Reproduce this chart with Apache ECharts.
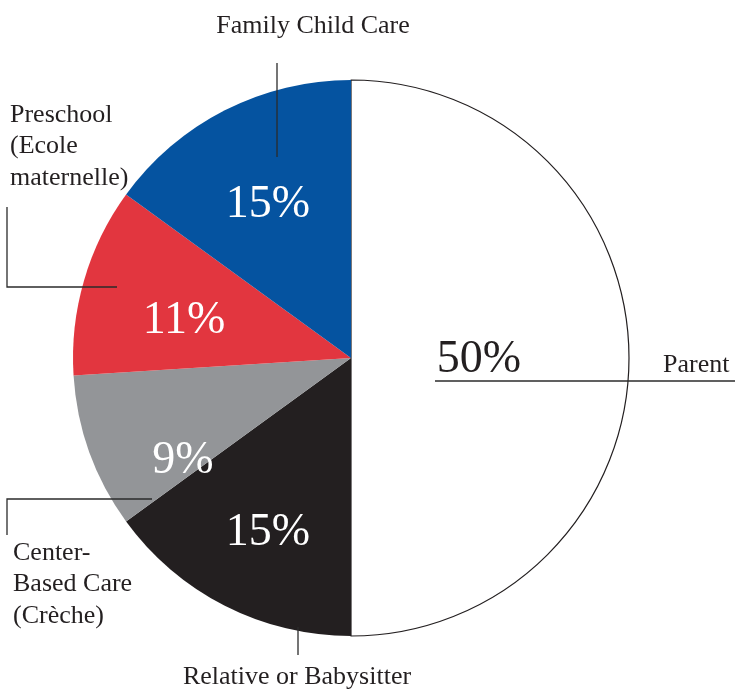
<!DOCTYPE html>
<html>
<head>
<meta charset="utf-8">
<script src="https://cdn.jsdelivr.net/npm/echarts@6/dist/echarts.min.js"></script>
<style>
  html, body { margin: 0; padding: 0; background: #fff; }
  #main { width: 735px; height: 689px; }
</style>
</head>
<body>
<div id="main"></div>
<script>
// slices, clockwise from 12 o'clock
var categories = ["Parent", "Relative or Babysitter", "Center-\nBased Care\n(Crèche)", "Preschool\n(Ecole\nmaternelle)", "Family Child Care"];
var shares = [50, 15, 9, 11, 15];

var sliceColors = ["#ffffff", "#231f20", "#939598", "#e2363f", "#0553a0"];
var pctColors = ["#231f20", "#ffffff", "#ffffff", "#ffffff", "#ffffff"];

// where the percent text sits (centre of text)
var pctPos = [[479, 360], [268, 533], [183, 461], [184, 321], [268, 205]];

// outer labels: text anchor + leader line
var namePos = [
  { x: 663, y: 365, align: "left", verticalAlign: "middle" },
  { x: 297, y: 677, align: "center", verticalAlign: "middle" },
  { x: 13, y: 537, align: "left", verticalAlign: "top" },
  { x: 10, y: 99, align: "left", verticalAlign: "top" },
  { x: 313, y: 26, align: "center", verticalAlign: "middle" }
];
var leaderLines = [
  [[435, 381], [600, 381], [735, 381]],
  [[298, 627], [298, 640], [298, 655]],
  [[152, 499], [7, 499], [7, 535]],
  [[117, 287], [7, 287], [7, 207]],
  [[277, 157], [277, 110], [277, 63]]
];

var font = "Liberation Serif";

var myChart = echarts.init(document.getElementById("main"));

var pieData = categories.map(function (name, i) {
  return {
    name: name,
    value: shares[i],
    itemStyle: i === 0
      ? { color: sliceColors[i], borderColor: "#231f20", borderWidth: 1.2 }
      : { color: sliceColors[i], borderWidth: 0 },
    label: { color: pctColors[i] }
  };
});

var nameData = categories.map(function (name, i) {
  return { name: name, value: shares[i] };
});

var option = {
  animation: false,
  backgroundColor: "#ffffff",
  series: [
    {
      type: "pie",
      z: 2,
      center: [351, 358],
      radius: [0, 278],
      startAngle: 90,
      clockwise: true,
      silent: true,
      avoidLabelOverlap: false,
      label: {
        show: true,
        position: "inside",
        formatter: "{c}%",
        fontFamily: font,
        fontSize: 46,
        fontWeight: "normal"
      },
      labelLine: { show: false },
      labelLayout: function (params) {
        var p = pctPos[params.dataIndex];
        return { x: p[0], y: p[1], align: "center", verticalAlign: "middle" };
      },
      data: pieData
    },
    {
      type: "pie",
      z: 5,
      center: [351, 358],
      radius: [0, 278],
      startAngle: 90,
      clockwise: true,
      silent: true,
      avoidLabelOverlap: false,
      itemStyle: { color: "rgba(0,0,0,0)", borderWidth: 0 },
      label: {
        show: true,
        position: "outside",
        formatter: "{b}",
        fontFamily: font,
        fontSize: 26,
        lineHeight: 31.5,
        color: "#231f20"
      },
      labelLine: {
        show: true,
        length: 10,
        length2: 10,
        lineStyle: { color: "#2b2b2b", width: 1.3 }
      },
      labelLayout: function (params) {
        var i = params.dataIndex;
        var p = namePos[i];
        return {
          x: p.x,
          y: p.y,
          align: p.align,
          verticalAlign: p.verticalAlign,
          labelLinePoints: leaderLines[i]
        };
      },
      data: nameData
    }
  ]
};

myChart.setOption(option);
</script>
</body>
</html>
